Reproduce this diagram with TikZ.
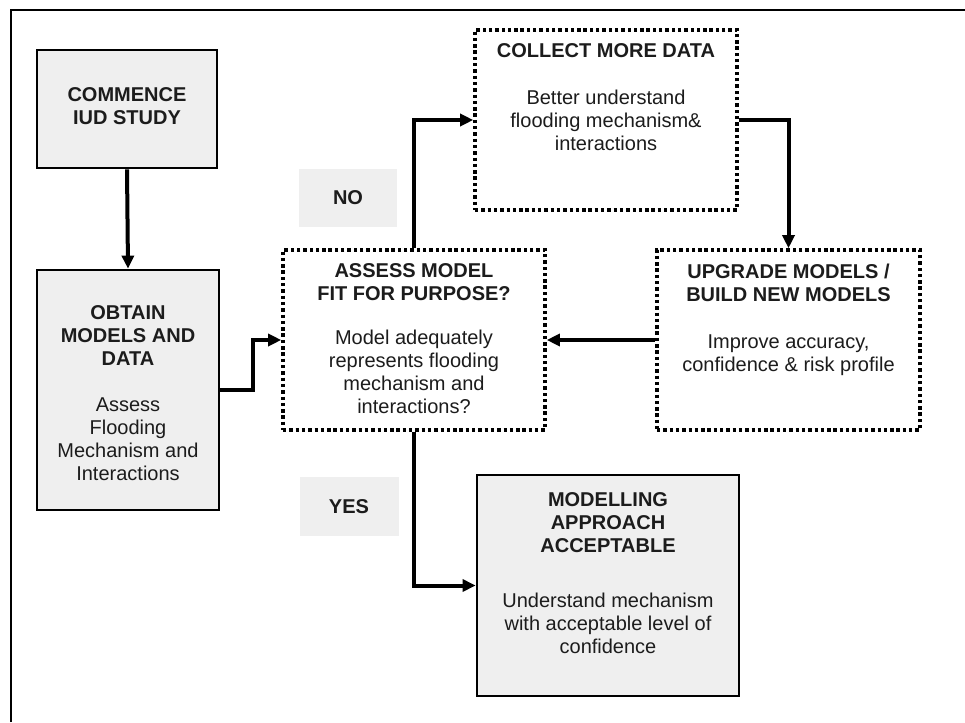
\documentclass[tikz,border=0pt]{standalone}
\usepackage{fontspec}
\setmainfont{Liberation Sans}
\usetikzlibrary{arrows.meta}
\definecolor{boxgrey}{HTML}{EFEFEF}
\definecolor{textc}{HTML}{1C1C1C}
\begin{document}
\begin{tikzpicture}[x=1pt,y=-1pt,
  solidbox/.style={draw=black, line width=2.8pt, fill=boxgrey, inner sep=0pt},
  dotbox/.style={draw=black, line width=3.6pt, dash pattern=on 3.4pt off 2.9pt, fill=white, inner sep=0pt},
  labelbox/.style={fill=boxgrey, inner sep=0pt, font=\fontsize{20}{23}\selectfont\bfseries, text=textc},
  txt/.style={align=center, inner sep=0pt, font=\fontsize{20}{23}\selectfont, text=textc},
  conn/.style={draw=black, line width=4pt, line join=miter, -{Triangle[length=13pt,width=12pt]}}
]
\fill[white] (0,0) rectangle (965,722);
\useasboundingbox (0,0) rectangle (965,722);
% frame
\draw[line width=2.8pt, black] (11,722) -- (11,10) -- (965,10);

% boxes
\node[solidbox, minimum width=180pt, minimum height=118pt] (commence) at (127,109) {};
\node[solidbox, minimum width=182pt, minimum height=240pt] (obtain) at (128,390) {};
\node[dotbox, minimum width=262pt, minimum height=180pt] (assess) at (414,340) {};
\node[dotbox, minimum width=262pt, minimum height=180pt] (collect) at (606,120) {};
\node[dotbox, minimum width=263pt, minimum height=180pt] (upgrade) at (788.5,340) {};
\node[solidbox, minimum width=262pt, minimum height=221pt] (modelling) at (608,585.5) {};
\node[labelbox, minimum width=98pt, minimum height=58pt] (no) at (348,198) {NO};
\node[labelbox, minimum width=99pt, minimum height=59pt] (yes) at (349,506.5) {YES};

% texts
\node[txt, anchor=north] (commencet) at (127,87.3) {\textbf{COMMENCE}\\\textbf{IUD STUDY}};
\node[txt, anchor=north] (obtaint) at (128,305.7) {\textbf{OBTAIN}\\\textbf{MODELS AND}\\\textbf{DATA}\\[23pt]Assess\\Flooding\\Mechanism and\\Interactions};
\node[txt, anchor=north] (assesst) at (414,263.7) {\textbf{ASSESS MODEL}\\\textbf{FIT FOR PURPOSE?}\\[21pt]Model adequately\\represents flooding\\mechanism and\\interactions?};
\node[txt, anchor=north] (collectt) at (606,43.7) {\textbf{COLLECT MORE DATA}\\[24pt]Better understand\\flooding mechanism\&\\interactions};
\node[txt, anchor=north] (upgradet) at (788.5,263.7) {\textbf{UPGRADE MODELS /}\\\textbf{BUILD NEW MODELS}\\[24pt]Improve accuracy,\\confidence \& risk profile};
\node[txt, anchor=north] (modellingt) at (608,492.7) {\textbf{MODELLING}\\\textbf{APPROACH}\\\textbf{ACCEPTABLE}\\[32pt]Understand mechanism\\with acceptable level of\\confidence};

% connectors
\draw[conn] (commence.south) -- (obtain.north);
\draw[conn] (obtain.east) -- ++(33,0) |- (assess.west);
\draw[conn] (assess.north) |- (collect.west);
\draw[conn] (collect.east) -| (upgrade.north);
\draw[conn] (upgrade.west) -- (assess.east);
\draw[conn] (assess.south) |- (modelling.west);
\end{tikzpicture}
\end{document}
